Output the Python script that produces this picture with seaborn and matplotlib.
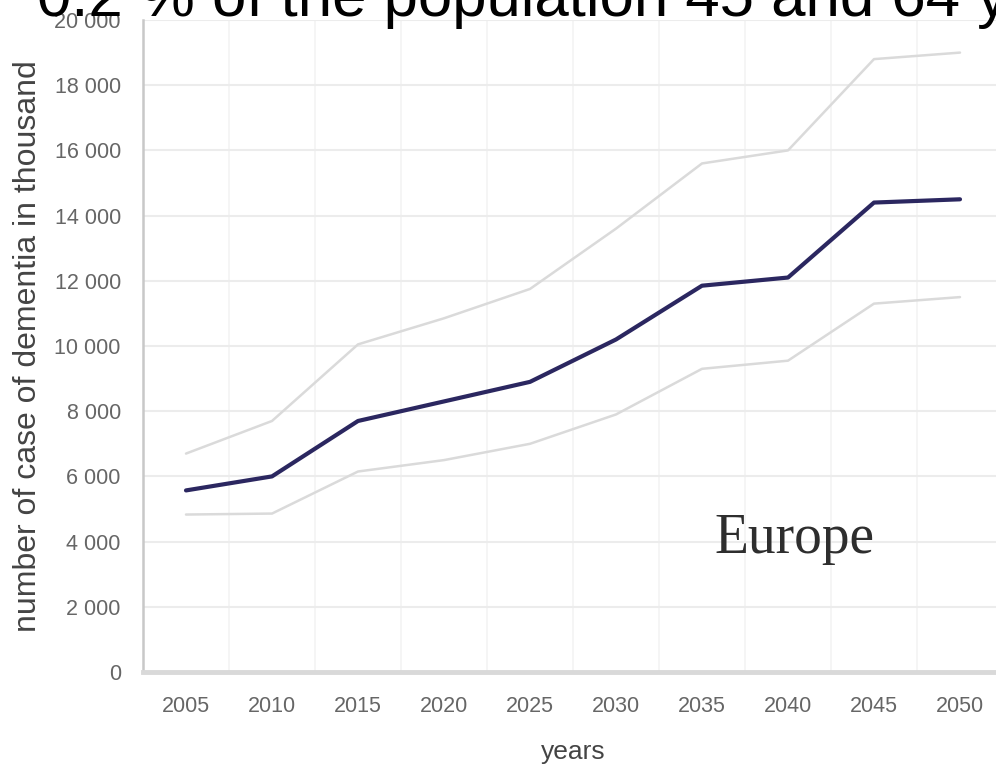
import pandas as pd
import seaborn as sns
import matplotlib.pyplot as plt
from matplotlib.ticker import FuncFormatter, MultipleLocator, FixedLocator

# data (thousands of dementia cases, Europe)
years = ["2005", "2010", "2015", "2020", "2025", "2030", "2035", "2040", "2045", "2050"]
central = [5570, 6000, 7700, 8300, 8900, 10200, 11850, 12100, 14400, 14500]
upper = [6700, 7700, 10050, 10850, 11750, 13600, 15600, 16000, 18800, 19000]
lower = [4830, 4860, 6150, 6500, 7000, 7900, 9300, 9550, 11300, 11500]

df = pd.DataFrame({
    "year": years * 3,
    "cases": upper + lower + central,
    "series": ["upper"] * len(years) + ["lower"] * len(years) + ["central"] * len(years),
})

sns.set_style("white")
plt.rcParams["font.family"] = ["Liberation Sans", "DejaVu Sans"]

fig = plt.figure(figsize=(9.96, 7.67), dpi=100)
ax = fig.add_axes([143 / 996, 95 / 767, 860 / 996, 652 / 767])

sns.lineplot(
    data=df, x="year", y="cases", hue="series", size="series",
    palette={"upper": "#dadada", "lower": "#dadada", "central": "#2b2760"},
    sizes={"upper": 1.8, "lower": 1.8, "central": 3.0},
    legend=False, ax=ax, sort=False,
)

ax.set_xlim(-0.5, len(years) - 0.5)
ax.set_ylim(0, 20000)
ax.yaxis.set_major_locator(MultipleLocator(2000))
ax.yaxis.set_major_formatter(FuncFormatter(lambda v, p: f"{int(v):,}".replace(",", " ")))

# category boundaries: tick marks + faint vertical grid
ax.xaxis.set_minor_locator(FixedLocator([i - 0.5 for i in range(len(years) + 1)]))
ax.tick_params(axis="x", which="major", length=0, pad=17, labelsize=15.5, labelcolor="#666666")
ax.tick_params(axis="x", which="minor", length=8, width=1.5, color="#bdbdbd", direction="out")
ax.tick_params(axis="y", which="major", length=8, width=1.5, color="#bdbdbd", direction="out",
               pad=8, labelsize=15.5, labelcolor="#666666")
ax.grid(axis="y", which="major", color="#ececec", linewidth=1.5)
ax.grid(axis="x", which="minor", color="#f3f3f3", linewidth=1.2)
ax.set_axisbelow(True)

for s in ["top", "right"]:
    ax.spines[s].set_visible(False)
ax.spines["left"].set_color("#c8c8c8")
ax.spines["left"].set_linewidth(1.8)
ax.spines["bottom"].set_color("#d9d9d9")
ax.spines["bottom"].set_linewidth(3.5)

ax.set_xlabel("years", fontsize=19, color="#444444", labelpad=17)
ax.set_ylabel("number of case of dementia in thousand", fontsize=23, color="#444444", labelpad=8)

ax.text(0.665, 119 / 652, "Europe", transform=ax.transAxes, fontsize=40,
        family="Liberation Serif", color="#2e2e2e", va="baseline", ha="left")

# slide title cut off at the top of the picture
fig.text(37 / 996, 1 - 16 / 767, "0.2 % of the population 45 and 64 years old", fontsize=44.5,
         color="black", va="baseline", ha="left")

fig.savefig("out.png", dpi=100)
